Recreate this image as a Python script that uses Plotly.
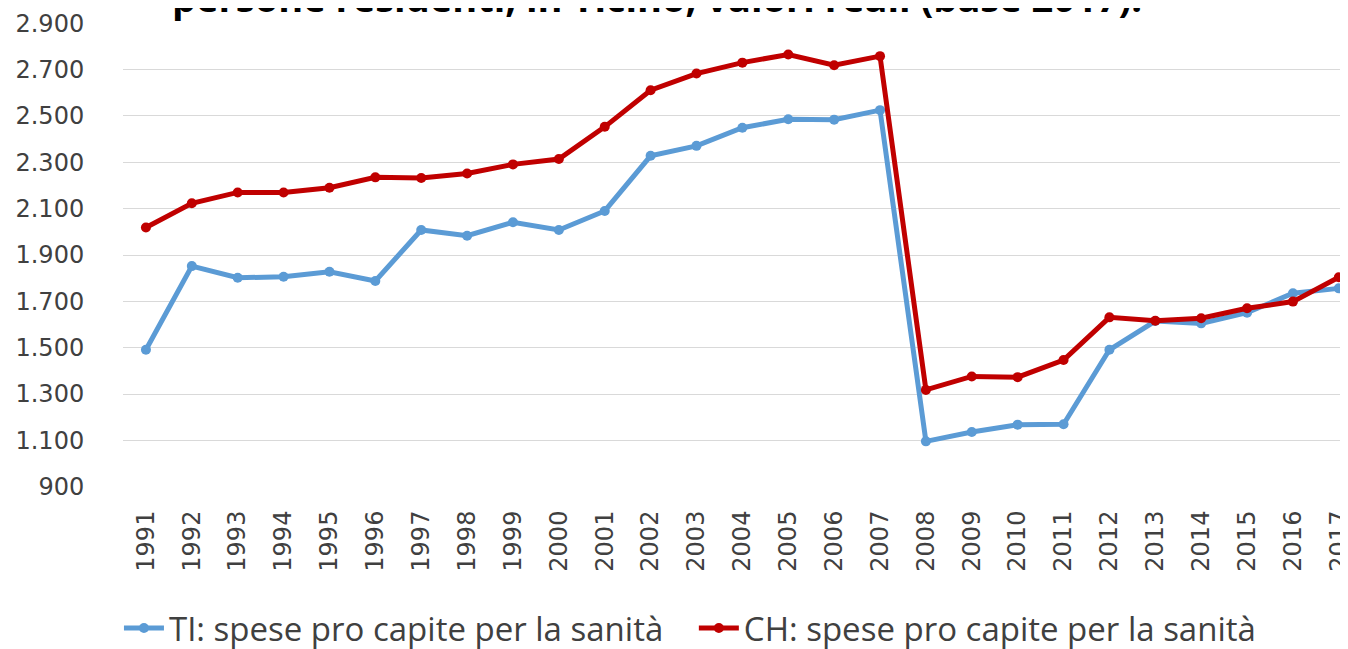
import plotly.graph_objects as go

# anni e spese pro capite (valori reali, base 2017)
years = [str(y) for y in range(1991, 2018)]
ti_spese = [1491, 1852, 1802, 1806, 1828, 1788, 2008, 1983, 2041, 2008,
            2090, 2328, 2371, 2449, 2486, 2484, 2525, 1096, 1136, 1168,
            1170, 1491, 1615, 1605, 1651, 1735, 1756]
ch_spese = [2019, 2123, 2170, 2170, 2190, 2235, 2232, 2252, 2291, 2314,
            2453, 2611, 2683, 2730, 2765, 2719, 2758, 1318, 1376, 1373,
            1447, 1631, 1616, 1627, 1670, 1699, 1804]
y_ticks = list(range(900, 3000, 200))

title_text = "persone residenti, in Ticino, valori reali (base 2017)."
name_ti = "TI: spese pro capite per la sanità"
name_ch = "CH: spese pro capite per la sanità"

tick_font = "DejaVu Sans, sans-serif"
text_font = "Open Sans, Noto Sans, sans-serif"
grey = "#404040"

fig = go.Figure()
fig.add_trace(go.Scatter(x=years, y=ti_spese, name=name_ti, mode="lines+markers",
                         line=dict(color="#5B9BD5", width=5),
                         marker=dict(size=10, color="#5B9BD5"), legend="legend"))
fig.add_trace(go.Scatter(x=years, y=ch_spese, name=name_ch, mode="lines+markers",
                         line=dict(color="#C00000", width=5),
                         marker=dict(size=10, color="#C00000"), legend="legend2"))

legend_style = dict(orientation="h", xanchor="left", yref="container",
                    y=1 - 620 / 649, yanchor="middle", itemwidth=40,
                    font=dict(family=text_font, size=33, color=grey))

fig.update_layout(
    width=1348, height=649,
    margin=dict(l=115, r=8, t=15, b=170, autoexpand=False),
    paper_bgcolor="white", plot_bgcolor="white",
    separators=",.",
    font=dict(family=text_font, size=21, color=grey),
    showlegend=True,
    legend=dict(x=-0.0033, **legend_style),
    legend2=dict(x=0.466, **legend_style),
    xaxis=dict(type="category", range=[-0.5, 26.2], tickangle=-90,
               showgrid=False, showline=False, zeroline=False, automargin=False,
               ticks="outside", ticklen=13, tickcolor="rgba(0,0,0,0)",
               tickfont=dict(family=tick_font, size=24, color=grey)),
    yaxis=dict(range=[899, 2901], tickvals=y_ticks, tickformat=",d",
               showgrid=True, gridcolor="#D9D9D9", gridwidth=1,
               showline=False, zeroline=False, automargin=False,
               ticks="outside", ticklen=33, tickcolor="rgba(0,0,0,0)",
               tickfont=dict(family=tick_font, size=24, color=grey)),
    annotations=[dict(text="<b>" + title_text + "</b>", xref="paper", yref="paper",
                      x=0.436, y=1, xanchor="center", yanchor="bottom", yshift=-2,
                      showarrow=False, font=dict(family=text_font, size=38, color="black"))],
)

fig.write_html("out.html")
